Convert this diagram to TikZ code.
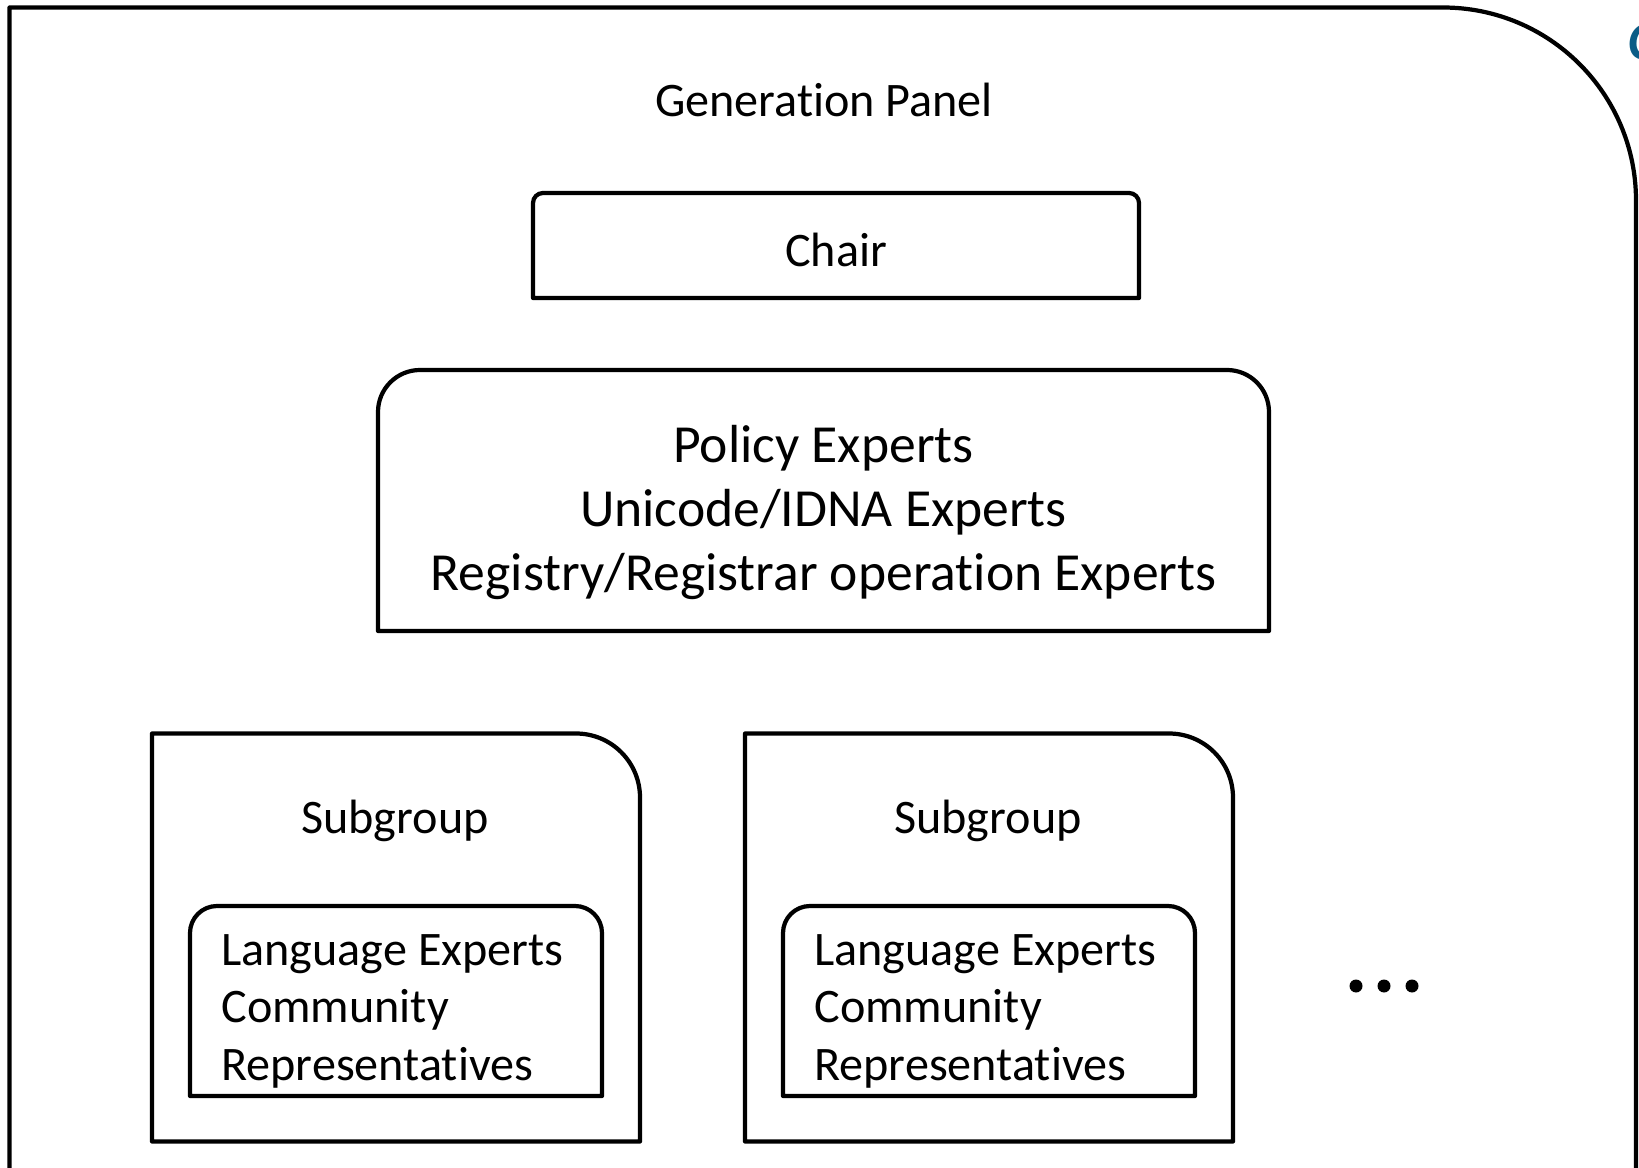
\documentclass[tikz,border=0pt]{standalone}
\usepackage{fontspec}
\setmainfont{Carlito}[Ligatures=NoCommon]
\usepackage{xcolor}
\usetikzlibrary{positioning}
\definecolor{panelblue}{HTML}{0B5C86}
\tikzset{
	% outline of every box
	boxline/.style={
		line width=2.4pt,
		line join=round
	}, %
	% plain text
	txt/.style={
		inner sep=0pt,
		font=\fontsize{27.4}{32.7}\selectfont
	}, %
	% experts list, centred lines
	bigtxt/.style={
		inner sep=0pt,
		align=center,
		font=\fontsize{30.5}{36.6}\selectfont
	}, %
	% member list in a subgroup
	listtxt/.style={
		txt,
		align=left
	}
}

\begin{document}
\begin{tikzpicture}
	\useasboundingbox (0,0) rectangle (32.78,-23.36);
	\clip (0,0) rectangle (32.78,-23.36);
	
	%% outer panel
	\draw [boxline] (0.19,-23.6) -- (0.19,-0.15) -- (28.86,-0.15) arc (90:0:3.86) -- (32.72,-23.6);
	\node [txt, text=panelblue, anchor=west, font=\fontsize{31}{36}\selectfont\bfseries\itshape] (logo) at (32.56,-0.84) {C};
	\node [txt] (title) at (16.48,-2.0) {Generation Panel};
	
	%% chair
	\draw [boxline] (10.66,-5.96) -- (10.66,-4.06) arc (180:90:0.2) -- (22.58,-3.86) arc (90:0:0.2) -- (22.78,-5.96) -- cycle;
	\node [txt] (chair) at (16.72,-5.0) {Chair};
	
	%% experts
	\draw [boxline] (7.56,-12.62) -- (7.56,-8.24) arc (180:90:0.84) -- (24.54,-7.40) arc (90:0:0.84) -- (25.38,-12.62) -- cycle;
	\node [bigtxt] (experts) at (16.47,-10.25) {Policy Experts\\Unicode/IDNA Experts\\Registry/Registrar operation Experts};
	
	%% subgroups
	\foreach \x/\n in {3.04/a, 14.90/b} {
		\draw [boxline] (\x,-22.83) -- (\x,-14.67) -- (\x+8.48,-14.67) arc (90:0:1.28) -- (\x+9.76,-22.83) -- cycle;
		\node [txt] (sub\n) at (\x+4.86,-16.42) {Subgroup};
		\draw [boxline] (\x+0.76,-21.92) -- (\x+0.76,-18.66) arc (180:90:0.54) -- (\x+8.46,-18.12) arc (90:0:0.54) -- (\x+9.0,-21.92) -- cycle;
		\node [listtxt, anchor=north west] (members\n) at (\x+1.38,-18.68) {Language Experts\\Community\\Representatives};
	}
	
	%% more subgroups
	\foreach \x in {27.12, 27.68, 28.24} {
		\fill (\x,-19.72) circle (0.13);
	}
\end{tikzpicture}
\end{document}
